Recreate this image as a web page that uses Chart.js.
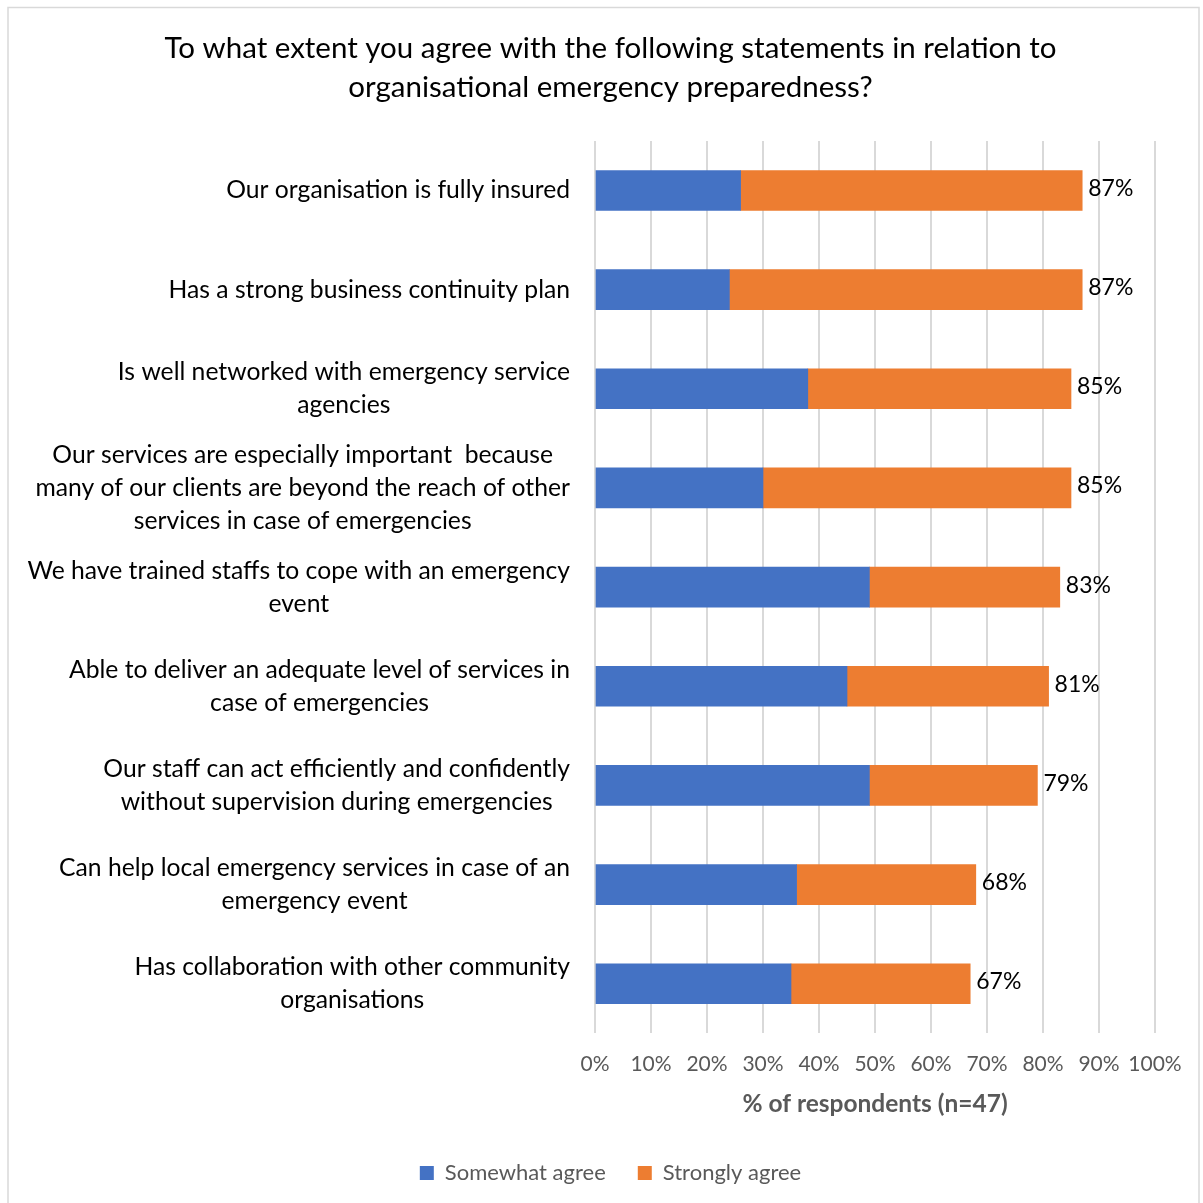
<!DOCTYPE html>
<html>
<head>
<meta charset="utf-8">
<title>Organisational emergency preparedness</title>
<script src="https://cdn.jsdelivr.net/npm/chart.js@4/dist/chart.umd.min.js"></script>
<style>
  html, body { margin: 0; padding: 0; background: #fff; }
  #wrap { position: relative; width: 1203px; height: 1203px; }
</style>
</head>
<body>
<div id="wrap"><canvas id="chart"></canvas></div>
<script>
const FONT = "Lato, 'Open Sans', sans-serif";

// statements, each split into the lines shown beside the bars
const statements = [
  ["Our organisation is fully insured"],
  ["Has a strong business continuity plan"],
  ["Is well networked with emergency service", "agencies"],
  ["Our services are especially important  because", "many of our clients are beyond the reach of other", "services in case of emergencies"],
  ["We have trained staffs to cope with an emergency", "event"],
  ["Able to deliver an adequate level of services in", "case of emergencies"],
  ["Our staff can act efficiently and confidently", "without supervision during emergencies"],
  ["Can help local emergency services in case of an", "emergency event"],
  ["Has collaboration with other community", "organisations"]
];

const somewhatAgree = [26, 24, 38, 30, 49, 45, 49, 36, 35];
const stronglyAgree = [61, 63, 47, 55, 34, 36, 30, 32, 32];

const xTicks = [0, 10, 20, 30, 40, 50, 60, 70, 80, 90, 100];

// white background plus the thin frame around the whole chart
const frame = {
  id: "frame",
  beforeDraw(chart) {
    const ctx = chart.ctx;
    ctx.save();
    ctx.fillStyle = "#fff";
    ctx.fillRect(0, 0, chart.width, chart.height);
    ctx.strokeStyle = "#d9d9d9";
    ctx.lineWidth = 1.5;
    ctx.strokeRect(8, 7.5, chart.width - 12, chart.height + 10);
    ctx.restore();
  }
};

// multi-line category labels, lines centred inside a right-aligned block
const categoryLabels = {
  id: "categoryLabels",
  afterDraw(chart) {
    const ctx = chart.ctx;
    const y = chart.scales.y;
    const right = 570;
    const lineH = 33;
    ctx.save();
    ctx.font = "24.7px " + FONT;
    ctx.fillStyle = "#000";
    ctx.textAlign = "center";
    ctx.textBaseline = "middle";
    statements.forEach((lines, i) => {
      const w = Math.max(...lines.map(l => ctx.measureText(l).width));
      const cx = right - w / 2;
      const cy = y.getPixelForValue(i);
      const top = cy - (lines.length - 1) * lineH / 2;
      lines.forEach((l, k) => ctx.fillText(l, cx, top + k * lineH));
    });
    ctx.restore();
  }
};

// total agreement printed at the end of each stacked bar
const totalLabels = {
  id: "totalLabels",
  afterDatasetsDraw(chart) {
    const ctx = chart.ctx;
    const meta = chart.getDatasetMeta(1);
    ctx.save();
    ctx.font = "23px " + FONT;
    ctx.fillStyle = "#000";
    ctx.textAlign = "left";
    ctx.textBaseline = "middle";
    meta.data.forEach((bar, i) => {
      const total = somewhatAgree[i] + stronglyAgree[i];
      ctx.fillText(total + "%", bar.x + 6, bar.y - 2);
    });
    ctx.restore();
  }
};

new Chart(document.getElementById("chart"), {
  type: "bar",
  data: {
    labels: statements.map(l => l.join(" ")),
    datasets: [
      { label: "Somewhat agree", data: somewhatAgree, backgroundColor: "#4472C4" },
      { label: "Strongly agree", data: stronglyAgree, backgroundColor: "#ED7D31" }
    ]
  },
  options: {
    indexAxis: "y",
    responsive: true,
    maintainAspectRatio: false,
    animation: false,
    barThickness: 40,
    layout: { padding: { left: 66, right: 48, top: 0, bottom: 9 } },
    scales: {
      x: {
        stacked: true,
        min: 0,
        max: 100,
        afterBuildTicks(scale) { scale.ticks = xTicks.map(v => ({ value: v })); },
        ticks: {
          callback: v => v + "%",
          color: "#595959",
          font: { family: FONT, size: 21 },
          padding: 18,
          autoSkip: false,
          maxRotation: 0
        },
        grid: { color: "#d9d9d9", lineWidth: 2, drawTicks: false },
        border: { display: false },
        title: {
          display: true,
          text: "% of respondents (n=47)",
          color: "#595959",
          font: { family: FONT, size: 24.5, weight: "bold", lineHeight: 1 },
          padding: { top: -3, bottom: 14 }
        }
      },
      y: {
        stacked: true,
        ticks: { display: false },
        grid: { display: false },
        border: { display: false },
        afterFit(scale) { scale.width = 595 - 66; }
      }
    },
    plugins: {
      title: {
        display: true,
        text: ["To what extent you agree with the following statements in relation to", "organisational emergency preparedness?"],
        color: "#000",
        font: { family: FONT, size: 29.5, weight: "normal", lineHeight: 1.32 },
        padding: { top: 29, bottom: 34 }
      },
      legend: {
        position: "bottom",
        labels: {
          color: "#595959",
          font: { family: FONT, size: 22 },
          boxWidth: 14,
          boxHeight: 14,
          padding: 32
        }
      },
      tooltip: { enabled: false }
    }
  },
  plugins: [frame, categoryLabels, totalLabels]
});
</script>
</body>
</html>
